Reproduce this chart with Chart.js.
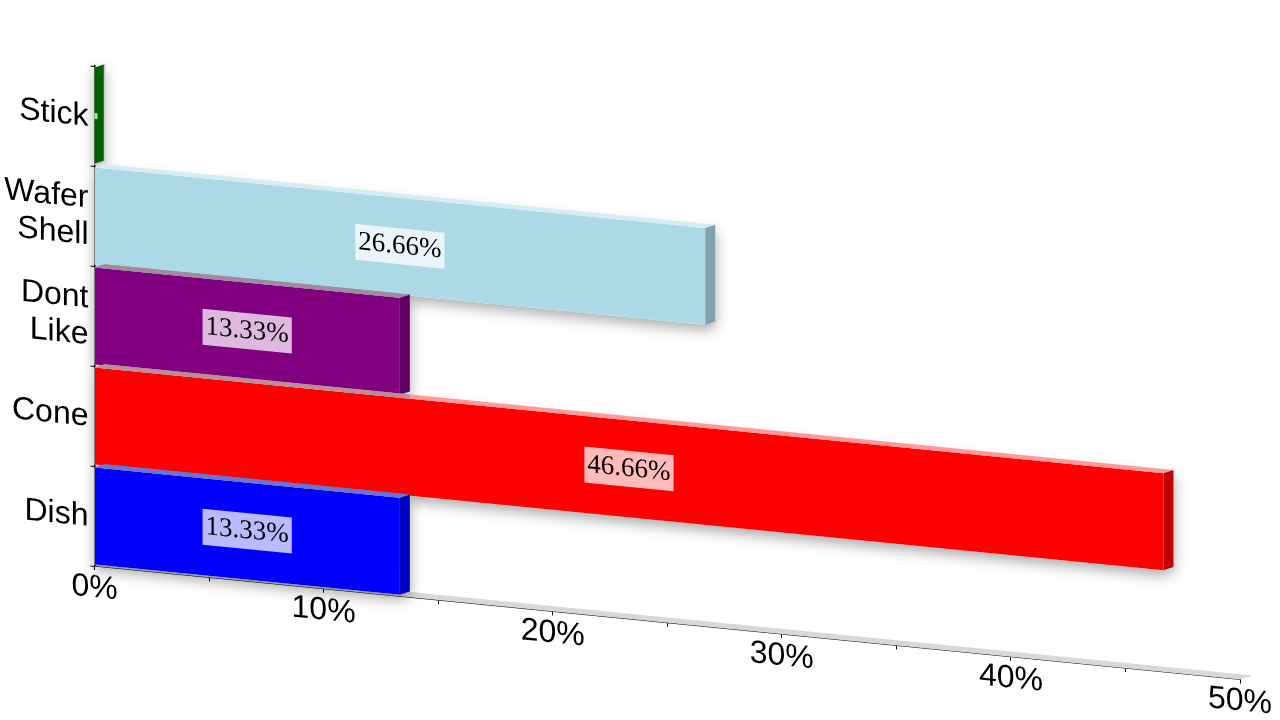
<!DOCTYPE html>
<html>
<head>
<meta charset="utf-8">
<style>
  html, body { margin: 0; padding: 0; background: #fff; }
  #wrap { width: 1280px; height: 720px; }
</style>
<script src="https://cdn.jsdelivr.net/npm/chart.js@4"></script>
</head>
<body>
<div id="wrap"><canvas id="grafico"></canvas></div>
<script>
// categories and values, top to bottom
const categorias = ['Stick', ['Wafer', 'Shell'], ['Dont', 'Like'], 'Cone', 'Dish'];
const valores = [0, 26.66, 13.33, 46.66, 13.33];
const cores = ['#008000', '#add8e6', '#800080', '#ff0000', '#0000ff'];
const coresLado = ['#006000', '#82a2ad', '#600060', '#c00000', '#0000c0'];
const coresTopo = ['#c8c8c8', '#d6ecf3', '#a08aa0', '#ff9898', '#6c74d0'];
// top face where it lies over the bar above it
const coresTopoSobre = ['#c8c8c8', '#d6ecf3', '#a08aa0', '#b88e98', '#6c74d0'];

const inclinacao = 0.099;  // the whole chart is sheared downward to the right
const fundoX = 10, fundoY = -4.2;  // depth of the bars

// polygon helper
function poligono(ctx, pts, cor) {
  ctx.beginPath();
  pts.forEach((p, i) => i ? ctx.lineTo(p[0], p[1]) : ctx.moveTo(p[0], p[1]));
  ctx.closePath();
  ctx.fillStyle = cor;
  ctx.fill();
}

const efeito3d = {
  id: 'efeito3d',
  beforeDraw(chart) {
    const ctx = chart.ctx, x0 = chart.chartArea.left;
    // category labels sit a little lower than the library puts them
    chart.scales.y.getLabelItems().forEach(item => {
      if (!item.movido) { item.options.translation[1] += 1.5; item.movido = true; }
    });
    ctx.save();
    ctx.transform(1, inclinacao, 0, 1, 0, -inclinacao * x0);
  },
  beforeDatasetsDraw(chart) {
    const ctx = chart.ctx, area = chart.chartArea;
    // grey floor under the bars
    poligono(ctx, [[area.left, area.bottom], [area.right, area.bottom],
      [area.right + 13, area.bottom - 5.3], [area.left + 13, area.bottom - 5.3]], '#d8d8d8');
    // soft shadows, the library paints the bars over them
    ctx.save();
    ctx.shadowColor = 'rgba(0,0,0,0.35)';
    ctx.shadowBlur = 14;
    ctx.shadowOffsetY = 5;
    chart.getDatasetMeta(0).data.forEach(bar => {
      const h = bar.height / 2, cima = bar.y - h, baixo = bar.y + h;
      poligono(ctx, [[area.left, cima], [bar.x, cima], [bar.x + fundoX, cima + fundoY],
        [bar.x + fundoX, baixo + fundoY], [bar.x, baixo], [area.left, baixo]], '#fff');
    });
    ctx.restore();
  },
  afterDatasetsDraw(chart) {
    const ctx = chart.ctx, area = chart.chartArea;
    const barras = chart.getDatasetMeta(0).data;
    barras.forEach((bar, i) => {
      const h = bar.height / 2, cima = bar.y - h, baixo = bar.y + h;
      const topo = [[area.left, cima], [bar.x, cima],
        [bar.x + fundoX, cima + fundoY], [area.left + fundoX, cima + fundoY]];
      poligono(ctx, topo, coresTopo[i]);
      // part of the top face over the previous bar
      if (i > 0 && valores[i - 1] > 0) {
        const fim = Math.min(bar.x, barras[i - 1].x + fundoX);
        poligono(ctx, [[area.left, cima], [fim, cima], [fim, cima + fundoY],
          [area.left + fundoX, cima + fundoY]], coresTopoSobre[i]);
      }
      const lado = [[bar.x, cima], [bar.x + fundoX, cima + fundoY],
        [bar.x + fundoX, baixo + fundoY], [bar.x, baixo]];
      poligono(ctx, lado, coresLado[i]);
      if (valores[i] === 0) {
        // an empty bar keeps only a pale outline round its end face
        ctx.strokeStyle = '#c8c8c8';
        ctx.lineWidth = 1.5;
        ctx.beginPath();
        ctx.moveTo(bar.x + fundoX, cima + fundoY);
        ctx.lineTo(bar.x + fundoX, baixo + fundoY);
        ctx.lineTo(bar.x, baixo);
        ctx.stroke();
      }
    });
    // value labels
    ctx.font = '27px "Liberation Serif"';
    ctx.textAlign = 'center';
    ctx.textBaseline = 'middle';
    barras.forEach((bar, i) => {
      const cx = (area.left + bar.x) / 2;
      ctx.fillStyle = 'rgba(255,255,255,0.73)';
      if (valores[i] === 0) {
        ctx.fillRect(area.left, bar.y - 3, 3, 6);
        return;
      }
      const txt = valores[i].toFixed(2) + '%';
      const w = ctx.measureText(txt).width + 6;
      ctx.fillRect(cx - w / 2, bar.y - 18, w, 36);
      ctx.fillStyle = '#000';
      ctx.fillText(txt, cx, bar.y);
    });
  },
  afterDraw(chart) {
    chart.ctx.restore();
  }
};

new Chart(document.getElementById('grafico'), {
  type: 'bar',
  data: {
    labels: categorias,
    datasets: [{
      data: valores,
      backgroundColor: cores,
      borderWidth: 0,
      barPercentage: 0.97,
      categoryPercentage: 1,
      clip: false
    }]
  },
  options: {
    indexAxis: 'y',
    responsive: true,
    maintainAspectRatio: false,
    animation: false,
    layout: { padding: { left: 0, right: 40, top: 66, bottom: 0 } },
    plugins: { legend: { display: false }, tooltip: { enabled: false } },
    scales: {
      x: {
        min: 0,
        max: 50,
        afterFit: s => { s.height = 154; },
        border: { color: '#000', width: 1.5 },
        grid: { drawOnChartArea: false, drawTicks: true, tickLength: 4, color: '#000' },
        ticks: {
          stepSize: 5,
          autoSkip: false,
          maxRotation: 0,
          padding: -1,
          color: '#000',
          font: { family: 'Liberation Sans', size: 32 },
          callback: v => v % 10 === 0 ? v + '%' : ''
        }
      },
      y: {
        afterFit: s => { s.width = 94.5; },
        border: { color: '#000', width: 1.5 },
        grid: { drawOnChartArea: false, drawTicks: true, tickLength: 4, color: '#000' },
        ticks: {
          autoSkip: false,
          padding: 2,
          color: '#000',
          font: { family: 'Liberation Sans', size: 32, lineHeight: 1.15 }
        }
      }
    }
  },
  plugins: [efeito3d]
});
</script>
</body>
</html>
